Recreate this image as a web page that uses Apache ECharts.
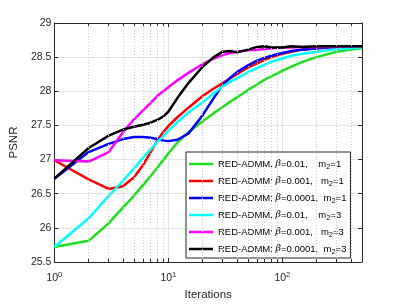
<!DOCTYPE html>
<html>
<head>
<meta charset="utf-8">
<script src="https://cdn.jsdelivr.net/npm/echarts@6/dist/echarts.min.js"></script>
<style>html,body{margin:0;padding:0;background:#fff}#c{width:399px;height:306px}</style>
</head>
<body>
<div id="c"></div>
<script>
var iterations = [1,2,3,4,5,6,7,8,9,10,12,15,20,25,30,35,40,50,60,70,80,100,120,150,200,300,400,500];
var green   = [25.72,25.81,26.07,26.30,26.47,26.63,26.76,26.88,26.99,27.09,27.25,27.40,27.56,27.68,27.77,27.85,27.91,28.02,28.10,28.17,28.22,28.30,28.36,28.43,28.50,28.58,28.61,28.63];
var red     = [26.99,26.71,26.57,26.61,26.74,26.92,27.11,27.28,27.40,27.49,27.62,27.76,27.93,28.04,28.12,28.19,28.25,28.35,28.41,28.46,28.50,28.55,28.58,28.61,28.63,28.65,28.65,28.65];
var blue    = [26.72,27.11,27.23,27.30,27.33,27.33,27.32,27.30,27.28,27.27,27.29,27.38,27.65,27.90,28.09,28.20,28.28,28.38,28.45,28.49,28.52,28.56,28.59,28.61,28.63,28.65,28.65,28.65];
var cyan    = [25.72,26.14,26.47,26.69,26.87,27.03,27.15,27.26,27.34,27.42,27.55,27.69,27.84,27.97,28.07,28.14,28.19,28.28,28.34,28.39,28.43,28.48,28.52,28.55,28.58,28.62,28.63,28.64];
var magenta = [26.99,26.97,27.11,27.40,27.59,27.72,27.83,27.93,28.00,28.06,28.16,28.27,28.40,28.48,28.53,28.56,28.58,28.60,28.61,28.62,28.63,28.64,28.64,28.65,28.65,28.65,28.66,28.66];
var black   = [26.72,27.17,27.35,27.44,27.48,27.51,27.54,27.58,27.63,27.70,27.90,28.12,28.36,28.50,28.58,28.59,28.57,28.61,28.65,28.66,28.64,28.64,28.66,28.65,28.66,28.66,28.66,28.66];
var seriesNames = ['b0.01m1','b0.001m1','b0.0001m1','b0.01m3','b0.001m3','b0.0001m3'];
var betaLabels = ['0.01,    ','0.001,   ','0.0001,  ','0.01,    ','0.001,   ','0.0001,  '];
var m2Labels = ['1','1','1','3','3','3'];
var yTicks = [25.5,26,26.5,27,27.5,28,28.5,29];
var minorX = [2,3,4,5,6,7,8,9,20,30,40,50,60,70,80,90,200,300,400];

var colors = ['#1ee01e','#ff0000','#0000ff','#00ffff','#ff00ff','#000000'];
var values = [green, red, blue, cyan, magenta, black];
var axisColor = '#262626';

function pairs(arr){ return iterations.map(function(x,i){ return [x, arr[i]]; }); }

var yMin = yTicks[0], yMax = yTicks[yTicks.length-1];
var mlData = [];
minorX.forEach(function(x){
  mlData.push([{coord:[x,yMin]},{coord:[x,yMax], lineStyle:{type:[1,2], color:'#cfcfcf', width:1}}]);
  mlData.push([{coord:[x,yMin]},{coord:[x,yMin+0.045], lineStyle:{type:'solid', color:axisColor, width:1}}]);
  mlData.push([{coord:[x,yMax-0.045]},{coord:[x,yMax], lineStyle:{type:'solid', color:axisColor, width:1}}]);
});

var series = values.map(function(v,i){
  return {name: seriesNames[i], type:'line', data: pairs(v), symbol:'none', showSymbol:false,
    lineStyle:{color:colors[i], width:2.5}, itemStyle:{color:colors[i]}, z:3, silent:true};
});
series.unshift({name:'minor', type:'line', data:[[1,yMin]], symbol:'none', lineStyle:{opacity:0}, z:1, silent:true,
  markLine:{silent:true, symbol:['none','none'], label:{show:false}, animation:false, data: mlData}});

var chart = echarts.init(document.getElementById('c'), null, {renderer:'canvas'});
chart.setOption({
  animation:false,
  backgroundColor:'#fff',
  grid:{left:52, right:37, top:23, bottom:38, show:false},
  xAxis:[{
    type:'log', logBase:10, min:1, max:500, position:'bottom',
    name:'Iterations', nameLocation:'middle', nameGap:27,
    nameTextStyle:{fontFamily:'Liberation Sans', fontSize:11.5, color:axisColor},
    axisLine:{show:true, onZero:false, lineStyle:{color:axisColor, width:1}},
    axisTick:{show:true, inside:true, length:4, lineStyle:{color:axisColor}},
    splitLine:{show:true, lineStyle:{color:'#e4e4e4', width:1}},
    axisLabel:{margin:9, color:axisColor, fontFamily:'Liberation Sans',
      formatter:function(v){ var e=Math.log10(v); if(Math.abs(e-Math.round(e))<1e-6){ return '{b|10}{sup|'+Math.round(e)+'}'; } return ''; },
      rich:{b:{fontSize:10.5, fontFamily:'Liberation Sans', color:axisColor, verticalAlign:'middle'},
            sup:{fontSize:7.5, fontFamily:'Liberation Sans', color:axisColor, padding:[0,0,7,0], verticalAlign:'middle'}}}
  },{
    type:'log', logBase:10, min:1, max:500, position:'top',
    axisLine:{show:true, onZero:false, lineStyle:{color:axisColor, width:1}},
    axisTick:{show:true, inside:true, length:4, lineStyle:{color:axisColor}},
    axisLabel:{show:false}, splitLine:{show:false}
  }],
  yAxis:[{
    type:'value', min:yMin, max:yMax, interval:0.5, position:'left',
    name:'PSNR', nameLocation:'middle', nameGap:29, nameRotate:90,
    nameTextStyle:{fontFamily:'Liberation Sans', fontSize:11.5, color:axisColor},
    axisLine:{show:true, onZero:false, lineStyle:{color:axisColor, width:1}},
    axisTick:{show:true, inside:true, length:4, lineStyle:{color:axisColor}},
    splitLine:{show:true, lineStyle:{color:'#e4e4e4', width:1}},
    axisLabel:{margin:3, color:axisColor, fontFamily:'Liberation Sans', fontSize:10.5,
      formatter:function(v){ return String(+v.toFixed(1)); }}
  },{
    type:'value', min:yMin, max:yMax, interval:0.5, position:'right',
    axisLine:{show:true, onZero:false, lineStyle:{color:axisColor, width:1}},
    axisTick:{show:true, inside:true, length:4, lineStyle:{color:axisColor}},
    axisLabel:{show:false}, splitLine:{show:false}
  }],
  legend:{
    data: seriesNames, orient:'vertical', left:186, top:152,
    padding:[5,4,2,3], itemWidth:24, itemHeight:2.5, itemGap:3.0, icon:'rect',
    backgroundColor:'#fff', borderColor:axisColor, borderWidth:1, borderRadius:0,
    selectedMode:false,
    formatter:function(name){
      var i = seriesNames.indexOf(name);
      return '{t|RED-ADMM: }{g|\u03b2}{t|='+betaLabels[i]+'m}{s|2}{t|='+m2Labels[i]+'}';
    },
    textStyle:{fontFamily:'Liberation Sans', fontSize:9.5, color:'#000', lineHeight:14,
      rich:{
        t:{fontFamily:'Liberation Sans', fontSize:9.5, color:'#000', lineHeight:14, verticalAlign:'middle'},
        g:{fontFamily:'DejaVu Serif', fontStyle:'italic', fontSize:9.5, color:'#000', lineHeight:14, verticalAlign:'middle'},
        s:{fontFamily:'Liberation Sans', fontSize:7.5, color:'#000', padding:[5,0,0,0], verticalAlign:'middle'}
      }}
  },
  series: series
});
</script>
</body>
</html>
